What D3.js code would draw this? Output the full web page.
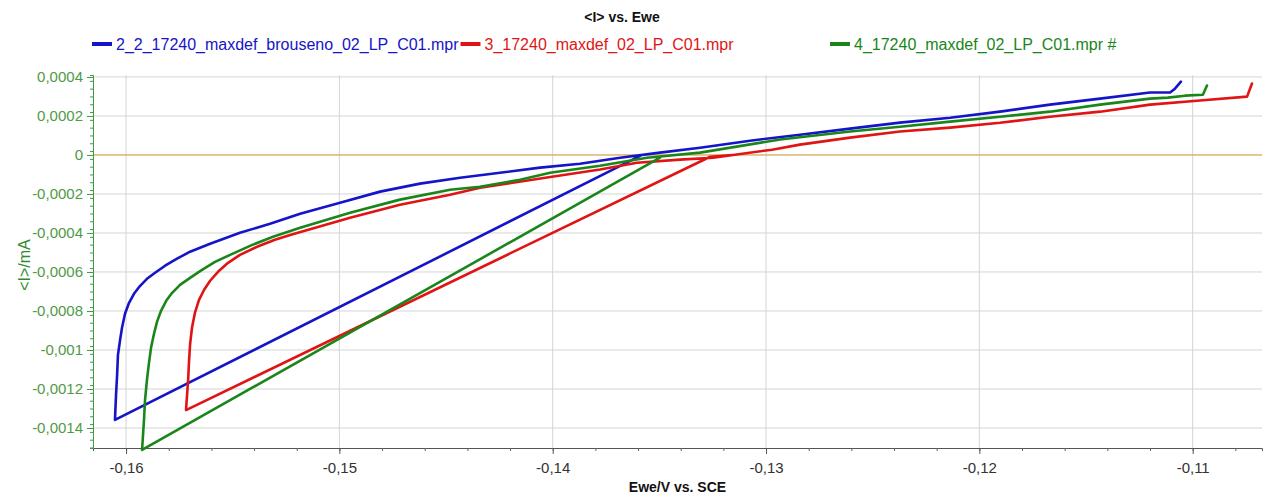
<!DOCTYPE html>
<html>
<head>
<meta charset="utf-8">
<script src="https://cdn.jsdelivr.net/npm/d3@7"></script>
<style>
  body { margin: 0; background: #fff; }
  text { font-family: Arial, "Liberation Sans", sans-serif; }
</style>
</head>
<body>
<script>
// series names + colours
var seriesNames = ["2_2_17240_maxdef_brouseno_02_LP_C01.mpr", "3_17240_maxdef_02_LP_C01.mpr", "4_17240_maxdef_02_LP_C01.mpr #"];
var seriesColors = ["#1414c8", "#e01414", "#1a861a"];

// Ewe/V values
var blueE = [-0.13516, -0.13581, -0.16052, -0.16047, -0.16042, -0.16038, -0.16028, -0.16019, -0.16005, -0.15986, -0.15963, -0.15934, -0.15902, -0.15864, -0.15817, -0.15761, -0.157, -0.15606, -0.15466, -0.15325, -0.15184, -0.14997, -0.14809, -0.14622, -0.14434, -0.14247, -0.14059, -0.13872, -0.13684, -0.13497, -0.13309, -0.13075, -0.12841, -0.12606, -0.12372, -0.12137, -0.11903, -0.11669, -0.11434, -0.112, -0.11106, -0.11083, -0.11055];
// <I>/mA values
var blueI = [0.00001, 0.0, -0.001358, -0.00123, -0.001128, -0.001025, -0.000948, -0.000886, -0.000814, -0.000758, -0.000712, -0.000671, -0.000635, -0.000604, -0.000568, -0.000532, -0.000496, -0.000455, -0.000399, -0.000353, -0.000301, -0.000245, -0.000188, -0.000147, -0.000117, -0.000091, -0.000065, -0.000045, -0.000014, 0.000012, 0.000037, 0.000073, 0.000104, 0.000135, 0.000166, 0.000191, 0.000222, 0.000258, 0.000289, 0.00032, 0.00032, 0.00034, 0.000376];

var redE = [-0.13155, -0.13262, -0.15719, -0.15714, -0.15709, -0.15705, -0.157, -0.15691, -0.15677, -0.15658, -0.15634, -0.15606, -0.15569, -0.15522, -0.15466, -0.15386, -0.15302, -0.15231, -0.1495, -0.14716, -0.14481, -0.14341, -0.14027, -0.13778, -0.13605, -0.13403, -0.13248, -0.12972, -0.12841, -0.12606, -0.12372, -0.12137, -0.11903, -0.11669, -0.11434, -0.112, -0.10966, -0.10745, -0.10722];
var redI = [0.0, -0.000009, -0.001308, -0.00123, -0.001153, -0.001061, -0.000973, -0.000886, -0.000809, -0.000743, -0.000691, -0.000645, -0.000599, -0.000553, -0.000512, -0.000471, -0.000435, -0.00041, -0.000322, -0.000255, -0.000204, -0.000168, -0.000116, -0.000075, -0.00004, -0.000024, -0.000014, 0.000027, 0.000053, 0.000089, 0.00012, 0.00014, 0.000165, 0.000196, 0.000222, 0.000258, 0.000279, 0.000299, 0.000366];

var greenE = [-0.13497, -0.15925, -0.15916, -0.15911, -0.15902, -0.15892, -0.15883, -0.15869, -0.15855, -0.15836, -0.15812, -0.15784, -0.15747, -0.157, -0.15644, -0.15583, -0.15512, -0.15419, -0.15311, -0.15184, -0.1495, -0.14716, -0.14481, -0.14341, -0.14153, -0.14012, -0.13778, -0.13558, -0.13309, -0.12934, -0.12606, -0.12372, -0.12137, -0.11903, -0.11669, -0.11434, -0.112, -0.11116, -0.11036, -0.10952, -0.10933];
var greenI = [-0.000014, -0.001512, -0.001359, -0.001256, -0.001153, -0.001061, -0.000989, -0.000917, -0.000856, -0.000799, -0.000748, -0.000707, -0.000666, -0.00063, -0.000589, -0.000548, -0.000512, -0.000466, -0.000419, -0.000373, -0.000296, -0.000229, -0.000178, -0.000163, -0.000127, -0.000091, -0.000055, -0.000014, 0.000012, 0.000079, 0.00012, 0.000145, 0.000171, 0.000196, 0.000222, 0.000258, 0.000289, 0.000294, 0.000304, 0.000309, 0.000356];

// tick labels
var xTicks = [-0.16, -0.15, -0.14, -0.13, -0.12, -0.11];
var yTicks = [0.0004, 0.0002, 0, -0.0002, -0.0004, -0.0006, -0.0008, -0.001, -0.0012, -0.0014];

var width = 1265, height = 497;
var margin = {top: 75, left: 93, right: 3, bottom: 49};

var svg = d3.select("body").append("svg")
    .attr("width", width)
    .attr("height", height);

var xScale = d3.scaleLinear()
    .domain([-0.16155, -0.10675])
    .range([margin.left, width - margin.right]);

var yScale = d3.scaleLinear()
    .domain([-0.0015026, 0.00041])
    .range([height - margin.bottom, margin.top]);

// 0,0004 style labels
function fmt(v) {
    return String(+v.toFixed(6)).replace(".", ",");
}

// grid
svg.append("g").selectAll("line").data(xTicks).join("line")
    .attr("x1", d => xScale(d)).attr("x2", d => xScale(d))
    .attr("y1", margin.top).attr("y2", height - margin.bottom)
    .attr("stroke", "#d4d4d4");
svg.append("g").selectAll("line").data(yTicks).join("line")
    .attr("x1", margin.left).attr("x2", width - margin.right)
    .attr("y1", d => yScale(d)).attr("y2", d => yScale(d))
    .attr("stroke", "#d4d4d4");

// zero line
svg.append("line")
    .attr("x1", margin.left).attr("x2", width - margin.right)
    .attr("y1", yScale(0)).attr("y2", yScale(0))
    .attr("stroke", "#e0a53a");

// minor ticks
var xMinor = d3.range(-0.16, -0.106, 0.002);
var yMinor = d3.range(-0.0015, 0.00041, 0.00004);

var xAxis = svg.append("g")
    .attr("transform", `translate(0,${height - margin.bottom})`)
    .call(d3.axisBottom(xScale).tickValues(xMinor).tickSize(3).tickFormat(""));
xAxis.select(".domain").attr("stroke", "#555");
xAxis.selectAll(".tick line").attr("stroke", "#666");
var xMajor = svg.append("g")
    .attr("transform", `translate(0,${height - margin.bottom})`)
    .call(d3.axisBottom(xScale).tickValues(xTicks).tickSize(6).tickPadding(8).tickFormat(fmt));
xMajor.select(".domain").remove();
xMajor.selectAll(".tick line").attr("stroke", "#555");
xMajor.selectAll("text").attr("font-size", 15).attr("fill", "#333").attr("font-family", "Arial, 'Liberation Sans', sans-serif");

var yAxis = svg.append("g")
    .attr("transform", `translate(${margin.left},0)`)
    .call(d3.axisLeft(yScale).tickValues(yMinor).tickSize(3).tickFormat(""));
yAxis.select(".domain").attr("stroke", "#3e9a3e");
yAxis.selectAll(".tick line").attr("stroke", "#3e9a3e");
var yMajor = svg.append("g")
    .attr("transform", `translate(${margin.left},0)`)
    .call(d3.axisLeft(yScale).tickValues(yTicks).tickSize(6).tickPadding(4).tickFormat(fmt));
yMajor.select(".domain").remove();
yMajor.selectAll(".tick line").attr("stroke", "#3e9a3e");
yMajor.selectAll("text").attr("font-size", 15).attr("fill", "#4f9a45").attr("font-family", "Arial, 'Liberation Sans', sans-serif");

// curves
var line = d3.line()
    .x(d => xScale(d[0]))
    .y(d => yScale(d[1]));

var series = [
    d3.zip(blueE, blueI),
    d3.zip(redE, redI),
    d3.zip(greenE, greenI)
];

svg.append("g").selectAll("path").data(series).join("path")
    .attr("fill", "none")
    .attr("stroke", (d, i) => seriesColors[i])
    .attr("stroke-width", 2.6)
    .attr("stroke-linejoin", "round")
    .attr("stroke-linecap", "round")
    .attr("d", line);

// title
svg.append("text")
    .attr("x", 622).attr("y", 22)
    .attr("text-anchor", "middle")
    .attr("font-size", 14).attr("font-weight", "bold")
    .attr("fill", "#111")
    .text("<I> vs. Ewe");

// legend
var legendX = [92, null, 830];
var lx = legendX[0];
seriesNames.forEach(function(name, i) {
    if (legendX[i] != null) lx = legendX[i];
    var g = svg.append("g").attr("transform", `translate(${lx},44)`);
    g.append("line").attr("x1", 0).attr("x2", 20).attr("y1", 0).attr("y2", 0)
        .attr("stroke", seriesColors[i]).attr("stroke-width", 4);
    var t = g.append("text").attr("x", 24).attr("y", 6)
        .attr("font-size", 16).attr("fill", seriesColors[i])
        .text(name);
    lx = lx + 24 + t.node().getComputedTextLength() + 2;
});

// axis titles
svg.append("text")
    .attr("x", (margin.left + width - margin.right) / 2)
    .attr("y", 492)
    .attr("text-anchor", "middle")
    .attr("font-size", 14).attr("font-weight", "bold")
    .attr("fill", "#111")
    .text("Ewe/V vs. SCE");

svg.append("text")
    .attr("transform", "rotate(-90)")
    .attr("x", -265).attr("y", 30)
    .attr("text-anchor", "middle")
    .attr("font-size", 16)
    .attr("fill", "#2f8a2f")
    .text("<I>/mA");
</script>
</body>
</html>
